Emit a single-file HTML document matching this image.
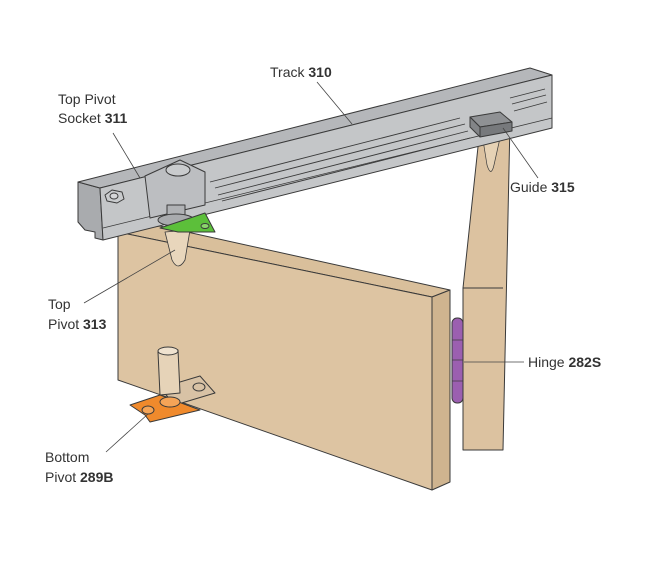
<!DOCTYPE html>
<html><head><style>
body{margin:0;background:#fff;}
svg{display:block}
text{font-family:"Liberation Sans",sans-serif;font-size:14px;fill:#333}
b{font-weight:bold}
</style></head><body>
<svg width="650" height="566" viewBox="0 0 650 566" xmlns="http://www.w3.org/2000/svg">
<g stroke="#3a3a3a" stroke-width="1" stroke-linejoin="round">
<!-- fixed side panel -->
<polygon points="480,128 510,122 503,450 463,450 463,288" fill="#dcc2a0"/>
<line x1="463" y1="288" x2="503" y2="288"/>
<!-- guide pin on panel -->
<path d="M483,140 L500,138 L494,165 Q491,178 487,165 Z" fill="#e6d2b5" stroke-width="0.7"/>
<!-- door top face -->
<polygon points="118,232 160,226 450,290 432,297" fill="#d9bf9b"/>
<!-- door front -->
<polygon points="118,232 432,297 432,490 118,380" fill="#ddc4a2"/>
<!-- door side -->
<polygon points="432,297 450,290 450,482 432,490" fill="#cfb48f"/>
<!-- hinge -->
<rect x="452" y="318" width="11" height="85" rx="5" fill="#9b5fb0"/>
<line x1="452" y1="340" x2="463" y2="340" stroke-width="0.7"/>
<line x1="452" y1="360" x2="463" y2="360" stroke-width="0.7"/>
<line x1="452" y1="381" x2="463" y2="381" stroke-width="0.7"/>
<!-- top pivot -->
<path d="M165,232 L190,230 L185,260 Q178,272 172,260 Z" fill="#e8d6bc" stroke-width="0.8"/>
<!-- bottom pivot back plate -->
<polygon points="160,388 200,376 215,393 175,405" fill="#d8c2a5"/>
<ellipse cx="199" cy="387" rx="6" ry="4" fill="#d8c2a5"/>
<!-- pin -->
<path d="M158,352 L178,350 L180,393 L160,395 Z" fill="#e6d3b8"/>
<ellipse cx="168" cy="351" rx="10" ry="4" fill="#efe2cf"/>
<!-- orange plate -->
<polygon points="130,405 160,395 200,410 150,422 145,415" fill="#f08a2c"/>
<ellipse cx="148" cy="410" rx="6" ry="4" fill="#f5a457"/>
<ellipse cx="170" cy="402" rx="10" ry="5" fill="#f5a457"/>
<!-- track left end -->
<polygon points="78,182 100,188 103,240 95,238 95,232 85,230 78,222" fill="#a9abae"/>
<!-- track top -->
<polygon points="78,182 530,68 552,75 100,188" fill="#b5b7ba"/>
<!-- track front -->
<polygon points="100,188 552,75 552,128 103,240" fill="#c4c6c8"/>
<line x1="103" y1="228" x2="552" y2="118" stroke-width="0.8"/>
<!-- grooves -->
<g stroke-width="0.9" fill="none">
<line x1="210" y1="182" x2="460" y2="118"/>
<line x1="215" y1="188" x2="465" y2="124"/>
<line x1="218" y1="195" x2="468" y2="131"/>
<line x1="222" y1="201" x2="470" y2="138"/>
<line x1="510" y1="98" x2="545" y2="89"/>
<line x1="512" y1="104" x2="546" y2="95"/>
<line x1="514" y1="111" x2="547" y2="102"/>
</g>
<!-- socket -->
<polygon points="145,176 180,160 205,172 205,205 150,218" fill="#bcbec1"/>
<ellipse cx="178" cy="170" rx="12" ry="6" fill="#c9cbcd"/>
<polygon points="105,195 112,190 122,192 124,199 117,203 107,201" fill="#c9cbcd"/>
<ellipse cx="114" cy="196" rx="4" ry="3" fill="#d5d6d8"/>
<!-- pivot bolt and green plate -->
<rect x="167" y="205" width="18" height="16" fill="#b0b2b5"/>
<ellipse cx="176" cy="220" rx="18" ry="6" fill="#a9abae"/>
<polygon points="160,228 205,213 215,232 178,232" fill="#5cbf3a"/>
<ellipse cx="205" cy="226" rx="4" ry="2.5" fill="#8bd56c"/>
<!-- guide block -->
<polygon points="470,117 500,112 512,122 480,127" fill="#8f9194"/>
<polygon points="480,127 512,122 512,131 480,137" fill="#77797c"/>
<polygon points="470,117 480,127 480,137 470,127" fill="#828487"/>
</g>
<!-- leaders -->
<g stroke="#444" stroke-width="0.8">
<line x1="317" y1="82" x2="352" y2="124"/>
<line x1="113" y1="133" x2="140" y2="178"/>
<line x1="503" y1="128" x2="538" y2="178"/>
<line x1="84" y1="303" x2="175" y2="250"/>
<line x1="464" y1="362" x2="524" y2="362"/>
<line x1="106" y1="452" x2="148" y2="414"/>
</g>
<text x="270" y="77">Track <tspan font-weight="bold">310</tspan></text>
<text x="58" y="104">Top Pivot</text>
<text x="58" y="123">Socket <tspan font-weight="bold">311</tspan></text>
<text x="510" y="192">Guide <tspan font-weight="bold">315</tspan></text>
<text x="48" y="309">Top</text>
<text x="48" y="329">Pivot <tspan font-weight="bold">313</tspan></text>
<text x="528" y="367">Hinge <tspan font-weight="bold">282S</tspan></text>
<text x="45" y="462">Bottom</text>
<text x="45" y="482">Pivot <tspan font-weight="bold">289B</tspan></text>
</svg>
</body></html>
